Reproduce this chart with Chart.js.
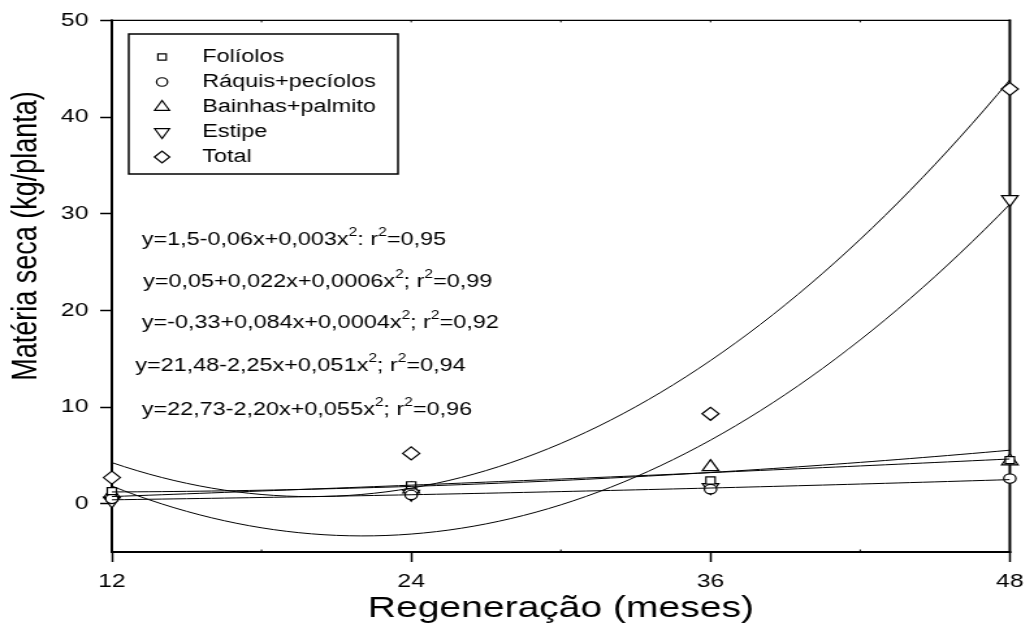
<!DOCTYPE html>
<html>
<head>
<meta charset="utf-8">
<script src="https://cdn.jsdelivr.net/npm/chart.js@4.4.1/dist/chart.umd.min.js"></script>
<style>
  html, body { margin: 0; padding: 0; background: #fff; }
</style>
</head>
<body>
<!-- bitmap is drawn narrower and stretched to full width -->
<canvas id="chart" width="795" height="635" style="width:1034px;height:635px"></canvas>
<script>
const months = [12, 24, 36, 48];
const foliolos = [1.3, 1.9, 2.4, 4.5];
const raquis = [0.5, 0.9, 1.5, 2.6];
const bainhas = [1.0, 1.5, 3.8, 4.4];
const estipe = [0.3, 1.0, 1.7, 31.5];
const total = [2.7, 5.2, 9.3, 42.9];

// quadratic fits: a + b*x + c*x^2
const fitFoliolos = [1.5, -0.06, 0.003];
const fitRaquis = [0.05, 0.022, 0.0006];
const fitBainhas = [-0.33, 0.084, 0.0004];
const fitEstipe = [21.48, -2.25, 0.051];
const fitTotal = [22.73, -2.20, 0.055];

const seriesNames = ['Folíolos', 'Ráquis+pecíolos', 'Bainhas+palmito', 'Estipe', 'Total'];
const equations = [
  'y=1,5-0,06x+0,003x^2: r^2=0,95',
  'y=0,05+0,022x+0,0006x^2; r^2=0,99',
  'y=-0,33+0,084x+0,0004x^2; r^2=0,92',
  'y=21,48-2,25x+0,051x^2; r^2=0,94',
  'y=22,73-2,20x+0,055x^2; r^2=0,96'
];

const xTicks = [12, 24, 36, 48];
const yTicks = [0, 10, 20, 30, 40, 50];
const xMinorTop = [18, 24, 30, 36, 42];
const xMinorBottom = [18, 30, 42];

const FONT = 'Liberation Sans, Arial, Helvetica, sans-serif';
const values = [foliolos, raquis, bainhas, estipe, total];
const fits = [fitFoliolos, fitRaquis, fitBainhas, fitEstipe, fitTotal];
const markers = [
  { style: 'rect', radius: 5, rotation: 0 },
  { style: 'circle', radius: 4.7, rotation: 0 },
  { style: 'triangle', radius: 7.3, rotation: 0 },
  { style: 'triangle', radius: 7.3, rotation: 180 },
  { style: 'rectRot', radius: 6.5, rotation: 0 }
];

const curveX = [];
for (let x = 12; x <= 48.0001; x += 0.5) curveX.push(x);

const pointSets = seriesNames.map((name, i) => ({
  type: 'scatter',
  label: name,
  data: months.map((m, j) => ({ x: m, y: values[i][j] })),
  pointStyle: markers[i].style,
  pointRadius: markers[i].radius,
  pointRotation: markers[i].rotation,
  pointBorderColor: '#000',
  pointBackgroundColor: '#fff',
  pointBorderWidth: 1.2,
  showLine: false,
  clip: false,
  order: 1
}));

const fitSets = fits.map(c => ({
  type: 'line',
  data: curveX.map(x => ({ x: x, y: c[0] + c[1] * x + c[2] * x * x })),
  borderColor: '#000',
  borderWidth: 1,
  pointRadius: 0,
  tension: 0,
  fill: false,
  order: 0
}));

const framePlugin = {
  id: 'frame',
  beforeDatasetsDraw(chart) {
    const { ctx, chartArea: a, scales } = chart;
    ctx.save();
    ctx.strokeStyle = '#000';
    ctx.lineCap = 'square';
    const line = (x1, y1, x2, y2, w) => {
      ctx.lineWidth = w;
      ctx.beginPath();
      ctx.moveTo(x1, y1);
      ctx.lineTo(x2, y2);
      ctx.stroke();
    };
    line(a.left, a.top, a.right, a.top, 1.3);
    line(a.right, a.top, a.right, a.bottom, 2);
    line(a.left, a.bottom, a.right, a.bottom, 2);
    line(a.left, a.top, a.left, a.bottom, 2);
    ctx.lineCap = 'butt';
    xMinorTop.forEach(v => {
      const px = scales.x.getPixelForValue(v);
      line(px, a.top, px, a.top + 2, 1);
    });
    xMinorBottom.forEach(v => {
      const px = scales.x.getPixelForValue(v);
      line(px, a.bottom, px, a.bottom - 2.5, 1);
    });
    ctx.restore();
  }
};

// y-axis title, regression equations and the boxed legend
const notesPlugin = {
  id: 'notes',
  afterDraw(chart) {
    const ctx = chart.ctx;
    ctx.save();
    ctx.fillStyle = '#000';

    ctx.save();
    ctx.translate(21, 236);
    ctx.rotate(-Math.PI / 2);
    ctx.font = '27px ' + FONT;
    ctx.textAlign = 'center';
    ctx.textBaseline = 'middle';
    ctx.fillText('Matéria seca (kg/planta)', 0, 0);
    ctx.restore();

    const eqX = [109, 110, 109, 104, 109];
    const eqY = [240, 282, 323, 366, 410];
    ctx.textBaseline = 'middle';
    ctx.textAlign = 'left';
    equations.forEach((eq, i) => {
      let x = eqX[i];
      eq.split('^').forEach((part, k) => {
        let sup = '';
        let rest = part;
        if (k > 0) { sup = part[0]; rest = part.slice(1); }
        if (sup) {
          ctx.font = '12px ' + FONT;
          ctx.fillText(sup, x, eqY[i] - 7);
          x += ctx.measureText(sup).width;
        }
        ctx.font = '18px ' + FONT;
        ctx.fillText(rest, x, eqY[i]);
        x += ctx.measureText(rest).width;
      });
    });

    ctx.strokeStyle = '#000';
    ctx.lineWidth = 1.5;
    ctx.strokeRect(99, 34, 207, 140);
    ctx.font = '18px ' + FONT;
    seriesNames.forEach((name, i) => {
      const y = 57 + 25 * i;
      ctx.fillStyle = '#fff';
      ctx.strokeStyle = '#000';
      ctx.lineWidth = 1.2;
      Chart.helpers.drawPoint(ctx, {
        pointStyle: markers[i].style,
        radius: markers[i].radius * 0.9,
        rotation: markers[i].rotation,
        borderWidth: 1.2
      }, 124.6, y);
      ctx.fillStyle = '#000';
      ctx.fillText(name, 155.4, y);
    });
    ctx.restore();
  }
};

new Chart(document.getElementById('chart'), {
  type: 'scatter',
  data: { datasets: fitSets.concat(pointSets) },
  plugins: [framePlugin, notesPlugin],
  options: {
    responsive: false,
    devicePixelRatio: 1,
    animation: false,
    layout: { padding: { top: 20, right: 16.5, left: 0, bottom: 0 } },
    plugins: { legend: { display: false }, tooltip: { enabled: false } },
    scales: {
      x: {
        type: 'linear',
        min: 12,
        max: 48,
        afterBuildTicks: s => { s.ticks = xTicks.map(v => ({ value: v })); },
        ticks: { color: '#000', font: { family: FONT, size: 19 }, padding: 8, maxRotation: 0 },
        grid: { drawOnChartArea: false, drawTicks: true, tickLength: 10, tickWidth: 1.5, tickColor: '#000' },
        border: { display: false },
        title: {
          display: true,
          text: 'Regeneração (meses)',
          color: '#000',
          font: { family: FONT, size: 30 },
          padding: { top: 0, bottom: 8 }
        },
        afterFit: s => { s.height = 83; }
      },
      y: {
        type: 'linear',
        min: -5,
        max: 50,
        afterBuildTicks: s => { s.ticks = yTicks.map(v => ({ value: v })); },
        ticks: { color: '#000', font: { family: FONT, size: 19 }, padding: 9 },
        grid: { drawOnChartArea: false, drawTicks: true, tickLength: 9, tickWidth: 1.5, tickColor: '#000' },
        border: { display: false },
        afterFit: s => { s.width = 86; }
      }
    }
  }
});
</script>
</body>
</html>
